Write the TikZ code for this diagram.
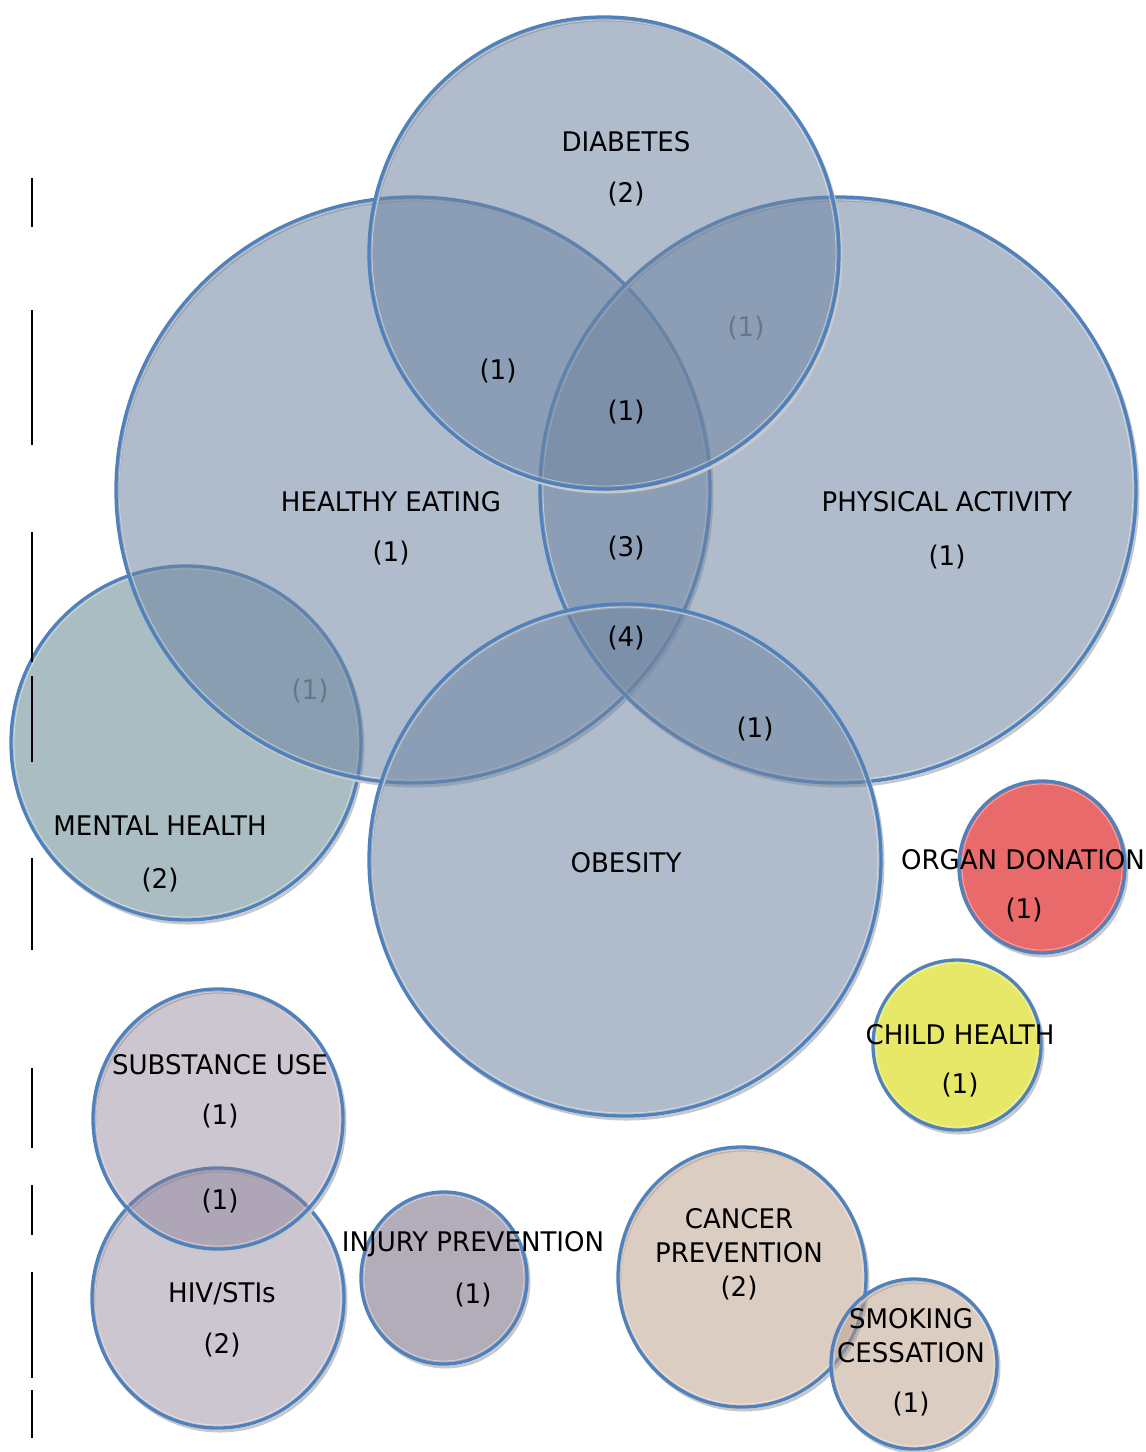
\documentclass[tikz,border=0pt]{standalone}
\usepackage{fontspec}
\setmainfont[FakeStretch=0.965]{DejaVu Sans}
\definecolor{bordc}{RGB}{79,129,189}
\definecolor{bluec}{RGB}{111,133,162}
\definecolor{mentc}{RGB}{170,189,195}
\definecolor{organc}{RGB}{233,106,106}
\definecolor{childc}{RGB}{232,232,104}
\definecolor{substc}{RGB}{136,122,148}
\definecolor{injc}{RGB}{179,172,185}
\definecolor{cancc}{RGB}{185,155,135}
\definecolor{shadc}{RGB}{200,200,200}
\definecolor{graytxt}{RGB}{102,119,140}
% #1 centre, #2 x radius, #3 y radius, #4 fill, #5 opacity
\newcommand{\vcirc}[5]{%
  \draw[shadc, line width=3] ($(#1)+(2,3)$) ellipse[x radius=#2, y radius=#3];
  \fill[#4, fill opacity=#5] (#1) ellipse[x radius=#2, y radius=#3];
  \draw[white, opacity=0.45, line width=0.8] (#1) ellipse[x radius=#2-3, y radius=#3-3];
  \draw[bordc, line width=3.3] (#1) ellipse[x radius=#2, y radius=#3];
}
\usetikzlibrary{calc}
\begin{document}
\begin{tikzpicture}[x=1pt,y=-1pt,
  lbl/.style={font=\fontsize{27}{34}\selectfont, text=black, inner sep=0pt, align=center},
  glbl/.style={lbl, text=graytxt},
  vbar/.style={black, line width=2.5}]
\useasboundingbox (0,0) rectangle (1146,1452);
% centres
\coordinate (he) at (413,490);
\coordinate (pa) at (838,490);
\coordinate (di) at (604,253);
\coordinate (ob) at (625,860);
\coordinate (mh) at (186,743);
\coordinate (od) at (1042,867);
\coordinate (ch) at (957,1045);
\coordinate (su) at (218,1119);
\coordinate (hiv) at (218,1298);
\coordinate (ip) at (444,1278);
\coordinate (cp) at (742,1277);
\coordinate (sc) at (914,1364);
% circles
\vcirc{mh}{175}{177}{mentc}{1}
\vcirc{he}{297}{293}{bluec}{0.55}
\vcirc{pa}{298}{293}{bluec}{0.55}
\vcirc{di}{235}{236}{bluec}{0.55}
\vcirc{ob}{256}{256}{bluec}{0.55}
\vcirc{od}{83}{86}{organc}{1}
\vcirc{ch}{84}{85}{childc}{1}
\vcirc{hiv}{126}{130}{substc}{0.43}
\vcirc{su}{125}{130}{substc}{0.43}
\vcirc{ip}{83}{86}{injc}{1}
\vcirc{cp}{124}{130}{cancc}{0.5}
\vcirc{sc}{83}{85}{cancc}{0.5}
% left bars
\coordinate (b1a) at (32,178); \coordinate (b1b) at (32,227);
\coordinate (b2a) at (32,310); \coordinate (b2b) at (32,445);
\coordinate (b3a) at (32,532); \coordinate (b3b) at (32,662);
\coordinate (b4a) at (32,676); \coordinate (b4b) at (32,762);
\coordinate (b5a) at (32,858); \coordinate (b5b) at (32,950);
\coordinate (b6a) at (32,1068); \coordinate (b6b) at (32,1148);
\coordinate (b7a) at (32,1185); \coordinate (b7b) at (32,1235);
\coordinate (b8a) at (32,1272); \coordinate (b8b) at (32,1378);
\coordinate (b9a) at (32,1390); \coordinate (b9b) at (32,1438);
\foreach \i in {1,...,9} {\draw[vbar] (b\i a) -- (b\i b);}
% labels
\node[lbl] (tdi) at (626,142) {DIABETES};
\node[lbl] (ndi) at (626,194) {(2)};
\node[lbl] (ndhe) at (498,371) {(1)};
\node[glbl] (ndpa) at (746,328) {(1)};
\node[lbl] (nc1) at (626,412) {(1)};
\node[lbl] (the) at (391,502) {HEALTHY EATING};
\node[lbl] (nhe) at (391,553) {(1)};
\node[lbl] (tpa) at (947,502) {PHYSICAL ACTIVITY};
\node[lbl] (npa) at (947,557) {(1)};
\node[lbl] (nc3) at (626,548) {(3)};
\node[lbl] (nc4) at (626,638) {(4)};
\node[lbl] (nopa) at (755,729) {(1)};
\node[glbl] (nmhe) at (310,691) {(1)};
\node[lbl] (tmh) at (160,826) {MENTAL HEALTH};
\node[lbl] (nmh) at (160,880) {(2)};
\node[lbl] (tob) at (626,863) {OBESITY};
\node[lbl] (tod) at (1023,860) {ORGAN DONATION};
\node[lbl] (nod) at (1024,910) {(1)};
\node[lbl] (tch) at (960,1035) {CHILD HEALTH};
\node[lbl] (nch) at (960,1085) {(1)};
\node[lbl] (tsu) at (220,1065) {SUBSTANCE USE};
\node[lbl] (nsu) at (220,1116) {(1)};
\node[lbl] (nsh) at (220,1201) {(1)};
\node[lbl] (thiv) at (222,1294) {HIV/STIs};
\node[lbl] (nhiv) at (222,1345) {(2)};
\node[lbl] (tip) at (473,1244) {INJURY PREVENTION};
\node[lbl] (nip) at (473,1295) {(1)};
\node[lbl] (tcp) at (739,1236) {CANCER\\PREVENTION};
\node[lbl] (ncp) at (739,1288) {(2)};
\node[lbl] (tsc) at (911,1336) {SMOKING\\CESSATION};
\node[lbl] (nsc) at (911,1404) {(1)};
\end{tikzpicture}
\end{document}
